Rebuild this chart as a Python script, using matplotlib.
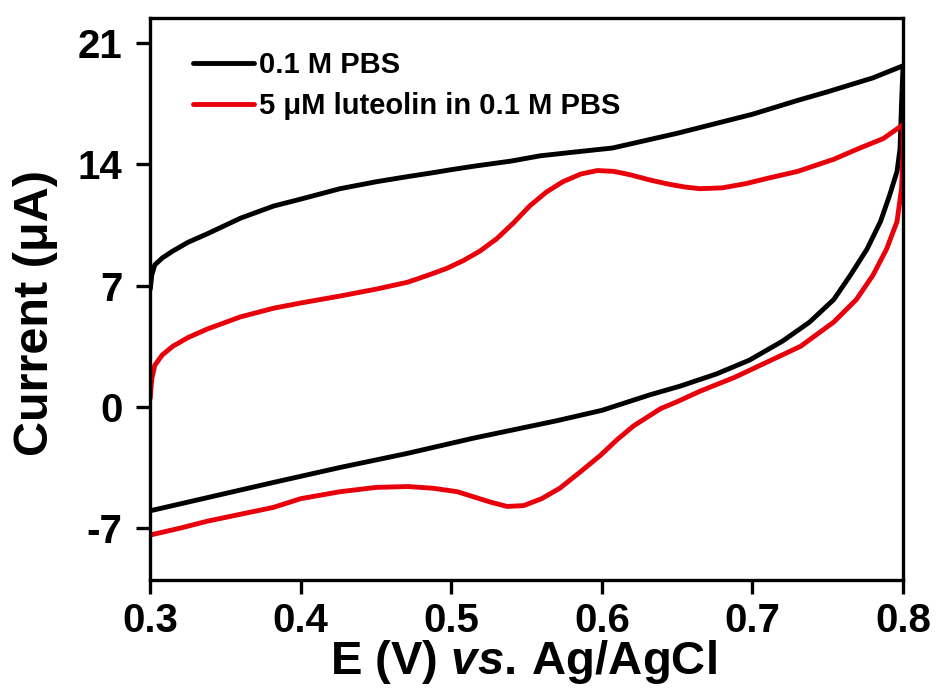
import matplotlib
matplotlib.use('Agg')
import matplotlib.pyplot as plt
import numpy as np

plt.rcParams['font.family'] = ['Liberation Sans', 'DejaVu Sans']
plt.rcParams['font.weight'] = 'bold'
plt.rcParams['mathtext.fontset'] = 'custom'
plt.rcParams['mathtext.it'] = 'Liberation Sans:italic:bold'
plt.rcParams['mathtext.rm'] = 'Liberation Sans:bold'

# 0.1 M PBS blank, anodic (forward) and cathodic (reverse) scans
pbs_fwd_E = [0.300, 0.301, 0.303, 0.308, 0.315, 0.325, 0.338, 0.36, 0.382, 0.40, 0.426, 0.45,
             0.471, 0.486, 0.50, 0.515, 0.54, 0.559, 0.58, 0.607, 0.65, 0.70, 0.73, 0.75, 0.78, 0.80]
pbs_fwd_I = [6.8, 7.6, 8.2, 8.6, 9.0, 9.5, 10.0, 10.9, 11.6, 12.0, 12.6, 13.0,
             13.3, 13.5, 13.7, 13.9, 14.2, 14.5, 14.7, 14.95, 15.8, 16.9, 17.7, 18.2, 19.0, 19.7]
pbs_rev_E = [0.80, 0.799, 0.798, 0.796, 0.791, 0.785, 0.776, 0.765, 0.754, 0.738, 0.720,
             0.698, 0.676, 0.652, 0.632, 0.60, 0.570, 0.515, 0.47, 0.426, 0.38, 0.34, 0.30]
pbs_rev_I = [19.7, 17.5, 14.9, 13.6, 12.2, 10.7, 9.1, 7.6, 6.2, 4.9, 3.8,
             2.7, 1.9, 1.2, 0.7, -0.2, -0.8, -1.8, -2.7, -3.5, -4.4, -5.2, -6.0]

# 5 uM luteolin in 0.1 M PBS
lut_fwd_E = [0.300, 0.301, 0.303, 0.308, 0.315, 0.325, 0.338, 0.36, 0.382, 0.40, 0.426, 0.45,
             0.471, 0.486, 0.497, 0.508, 0.519, 0.530, 0.541, 0.552, 0.563, 0.574, 0.586, 0.597,
             0.608, 0.619, 0.632, 0.645, 0.655, 0.665, 0.680, 0.696, 0.710, 0.730, 0.754,
             0.770, 0.787, 0.80]
lut_fwd_I = [0.5, 1.6, 2.4, 3.0, 3.5, 4.0, 4.5, 5.2, 5.7, 6.0, 6.4, 6.8,
             7.2, 7.65, 8.0, 8.45, 9.0, 9.7, 10.6, 11.6, 12.4, 13.0, 13.45, 13.65,
             13.6, 13.4, 13.1, 12.85, 12.7, 12.6, 12.65, 12.9, 13.2, 13.6, 14.3,
             14.9, 15.5, 16.3]
lut_rev_E = [0.80, 0.8, 0.799, 0.796, 0.789, 0.780, 0.769, 0.754, 0.732, 0.710, 0.688,
             0.665, 0.650, 0.639, 0.630, 0.621, 0.610, 0.599, 0.585, 0.572, 0.560, 0.548,
             0.537, 0.526, 0.515, 0.504, 0.488, 0.471, 0.45, 0.426, 0.40, 0.382, 0.36, 0.338,
             0.32, 0.30]
lut_rev_I = [16.3, 14.7, 12.6, 10.7, 9.1, 7.6, 6.2, 4.9, 3.5, 2.6, 1.7,
             0.9, 0.3, -0.1, -0.6, -1.1, -1.9, -2.8, -3.8, -4.7, -5.3, -5.7,
             -5.75, -5.5, -5.2, -4.9, -4.7, -4.6, -4.65, -4.9, -5.3, -5.8, -6.2, -6.6,
             -7.0, -7.4]

fig = plt.figure(figsize=(9.39, 6.98), dpi=100)
ax = fig.add_axes([0.160, 0.169, 0.8017, 0.805])

ax.plot(pbs_fwd_E + pbs_rev_E, pbs_fwd_I + pbs_rev_I, color='black', lw=3.5,
        label='0.1 M PBS', solid_capstyle='round', solid_joinstyle='round')
ax.plot(lut_fwd_E + lut_rev_E, lut_fwd_I + lut_rev_I, color='#e8000b', lw=3.5,
        label='5 \u03bcM luteolin in 0.1 M PBS', solid_capstyle='round', solid_joinstyle='round')

ax.set_xlim(0.3, 0.8)
ax.set_ylim(-10.0, 22.45)
ax.set_xticks([0.3, 0.4, 0.5, 0.6, 0.7, 0.8])
ax.set_xticklabels(['0.3', '0.4', '0.5', '0.6', '0.7', '0.8'])
ax.set_yticks([-7, 0, 7, 14, 21])
ax.set_yticklabels(['-7', '0', '7', '14', '21'])
ax.tick_params(direction='out', length=10, width=2.4, labelsize=29)
ax.tick_params(axis='x', pad=6)
ax.tick_params(axis='y', pad=10)
for s in ax.spines.values():
    s.set_linewidth(2.4)

ax.set_ylabel('Current (\u03bcA)', fontsize=35, fontweight='bold')
ax.yaxis.set_label_coords(-0.123, 0.475)
ax.set_xlabel(r'E (V) $\mathit{vs.}\,$Ag/AgCl', fontsize=34, fontweight='bold')
ax.xaxis.set_label_coords(0.496, -0.104)

ax.legend(loc='upper left', bbox_to_anchor=(0.03, 0.977), frameon=False, fontsize=21,
          handlelength=2.1, handletextpad=0.15, labelspacing=0.42, borderaxespad=0.3)

plt.savefig('out.png', dpi=100)
